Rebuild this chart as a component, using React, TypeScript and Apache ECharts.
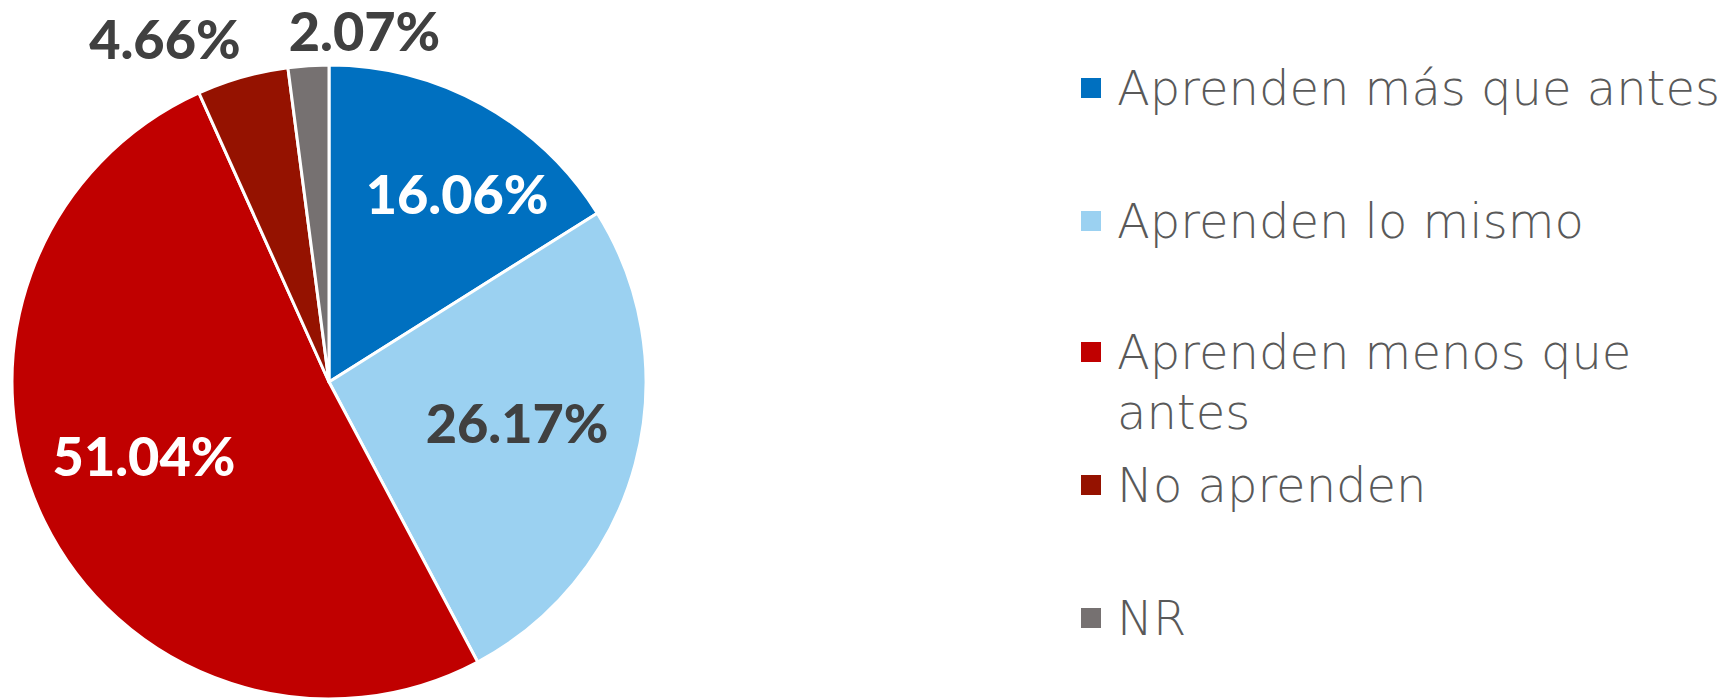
import React, { useEffect, useRef } from "react";
import * as echarts from "echarts";

const categories = [
  "Aprenden más que antes",
  "Aprenden lo mismo",
  "Aprenden menos que antes",
  "No aprenden",
  "NR",
];
const values = [16.06, 26.17, 51.04, 4.66, 2.07];
const legendLabels = [
  "Aprenden más que antes",
  "Aprenden lo mismo",
  "Aprenden menos que\nantes",
  "No aprenden",
  "NR",
];

const colors = ["#0070C0", "#9BD1F1", "#C00000", "#951200", "#767171"];
const labelColors = ["#FFFFFF", "#404040", "#FFFFFF", "#404040", "#404040"];
const labelShift: number[][] = [
  [50, -47],
  [32, -1],
  [-40, 2],
  [-120, -188],
  [46, -190],
];
const legendRowY = [88, 221, 352, 485, 618];

export default function App() {
  const ref = useRef<HTMLDivElement>(null);
  useEffect(() => {
    document.body.style.margin = "0";
    if (!ref.current) return;
    const chart = echarts.init(ref.current, undefined, { renderer: "svg" });
    const legendFont = "'DejaVu Sans', sans-serif";
    const legends = categories.map((name, i) => {
      const lines = legendLabels[i].split("\n").length;
      // multi-line entries get a blank leading line so that the icon sits on the first text line
      const text = lines === 1 ? legendLabels[i] : " \n" + legendLabels[i];
      const total = lines === 1 ? 1 : lines + 1;
      return {
        show: true,
        orient: "vertical",
        left: 1079,
        top: legendRowY[i] - (60 * total) / 2,
        padding: 0,
        data: [name],
        icon: "rect",
        itemWidth: 22,
        itemHeight: 22,
        formatter: () => text,
        textStyle: {
          fontFamily: legendFont,
          fontWeight: 300,
          fontSize: 48,
          color: "#595959",
          lineHeight: 60,
          padding: [0, 0, 0, 10],
        },
      };
    });
    chart.setOption({
      animation: false,
      backgroundColor: "#ffffff",
      legend: legends,
      series: [
        {
          type: "pie",
          center: [329, 382],
          radius: 317,
          startAngle: 90,
          clockwise: true,
          avoidLabelOverlap: false,
          itemStyle: { borderColor: "#ffffff", borderWidth: 3 },
          label: {
            show: true,
            position: "inside",
            fontFamily: "Lato, 'Liberation Sans', sans-serif",
            fontWeight: 900,
            fontSize: 54,
            lineHeight: 48,
            formatter: (p: any) => p.value.toFixed(2) + "%",
          },
          labelLine: { show: false },
          labelLayout: (p: any) => ({
            dx: labelShift[p.dataIndex][0],
            dy: labelShift[p.dataIndex][1],
          }),
          emphasis: { disabled: true },
          data: categories.map((name, i) => ({
            name,
            value: values[i],
            itemStyle: { color: colors[i] },
            label: { color: labelColors[i] },
          })),
        },
      ],
    });
    return () => chart.dispose();
  }, []);
  return <div ref={ref} style={{ width: 1736, height: 698 }} />;
}
